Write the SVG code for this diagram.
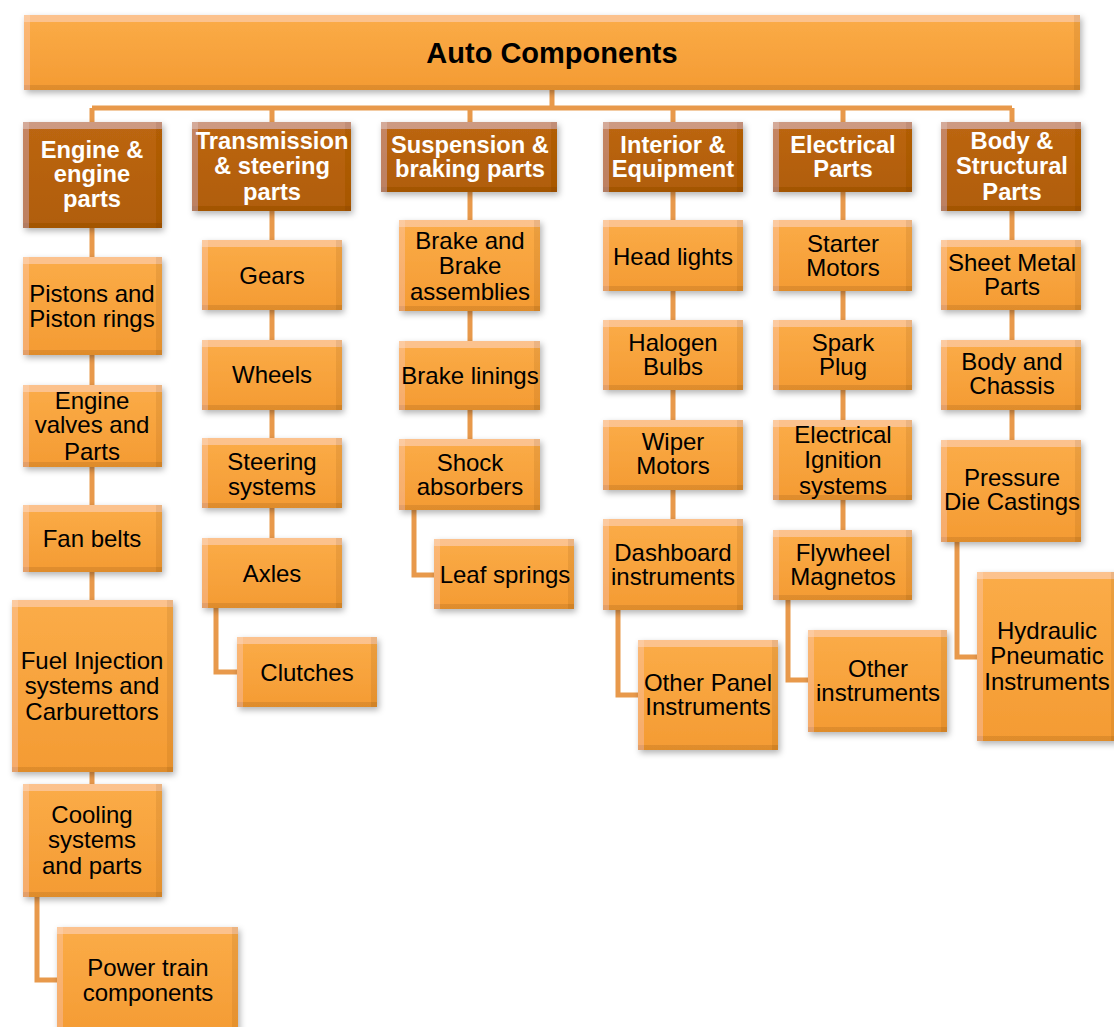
<svg xmlns="http://www.w3.org/2000/svg" width="1114" height="1027" viewBox="0 0 1114 1027">
<defs>
<linearGradient id="g" x1="0" y1="0" x2="0" y2="1"><stop offset="0" stop-color="#FBAC48"/><stop offset="1" stop-color="#F49B33"/></linearGradient>
<linearGradient id="gk" x1="0" y1="0" x2="0" y2="1"><stop offset="0" stop-color="#BC6612"/><stop offset="1" stop-color="#B05D0C"/></linearGradient>
<filter id="bev" x="-10%" y="-10%" width="125%" height="130%">
<feGaussianBlur in="SourceAlpha" stdDeviation="3" result="b"/>
<feOffset in="b" dx="2" dy="3" result="bo"/>
<feFlood flood-color="#000" flood-opacity="0.3"/>
<feComposite in2="bo" operator="in" result="sh"/>
<feOffset in="SourceAlpha" dy="7" result="d1"/>
<feComposite in="SourceAlpha" in2="d1" operator="out" result="tb"/>
<feFlood flood-color="#fff" flood-opacity="0.22"/>
<feComposite in2="tb" operator="in" result="tbc"/>
<feOffset in="SourceAlpha" dy="-5" result="d2"/>
<feComposite in="SourceAlpha" in2="d2" operator="out" result="bb"/>
<feFlood flood-color="#6a3300" flood-opacity="0.22"/>
<feComposite in2="bb" operator="in" result="bbc"/>
<feOffset in="SourceAlpha" dx="6" result="d3"/>
<feComposite in="SourceAlpha" in2="d3" operator="out" result="lb"/>
<feFlood flood-color="#fff" flood-opacity="0.12"/>
<feComposite in2="lb" operator="in" result="lbc"/>
<feOffset in="SourceAlpha" dx="-6" result="d4"/>
<feComposite in="SourceAlpha" in2="d4" operator="out" result="rb"/>
<feFlood flood-color="#6a3300" flood-opacity="0.16"/>
<feComposite in2="rb" operator="in" result="rbc"/>
<feMerge><feMergeNode in="sh"/><feMergeNode in="SourceGraphic"/><feMergeNode in="tbc"/><feMergeNode in="bbc"/><feMergeNode in="lbc"/><feMergeNode in="rbc"/></feMerge>
</filter>
</defs>
<style>
.c{fill:url(#g);filter:url(#bev)}
.k{fill:url(#gk);filter:url(#bev)}
.t{font-family:"Liberation Sans",Arial,sans-serif;font-size:24px;fill:#000;text-anchor:middle}
.tk{font-family:"Liberation Sans",Arial,sans-serif;font-size:23.7px;font-weight:bold;fill:#fff;text-anchor:middle}
.tt{font-family:"Liberation Sans",Arial,sans-serif;font-size:29px;font-weight:bold;fill:#000;text-anchor:middle}
.ln{fill:none;stroke:#E8994B;stroke-width:5}
</style>
<rect width="1114" height="1027" fill="#fff"/>
<g id="connectors" class="ln">
<path d="M552 90V108M92 108H1012M92 108V122M272 108V122M470 108V122M673 108V122M843 108V122M1012 108V122"/>
<path d="M92 228V784M37 897V980H57"/>
<path d="M272 211V538M216 608V672H237"/>
<path d="M470 192V439M414 510V575H434"/>
<path d="M673 192V519M618 610V695H638"/>
<path d="M843 192V530M788 600V680H808"/>
<path d="M1012 211V440M957 542V657H977"/>
</g>
<g id="root"><rect class="c" x="24" y="15" width="1056" height="75"/><text class="tt" x="552" y="63">Auto Components</text></g>

<g id="cat-engine"><rect class="k" x="23" y="122" width="139" height="106"/><text class="tk"><tspan x="92" y="158">Engine &amp;</tspan><tspan x="92" y="182">engine</tspan><tspan x="92" y="207">parts</tspan></text></g>
<g id="cat-trans"><rect class="k" x="192" y="122" width="159" height="89"/><text class="tk"><tspan x="272" y="149">Transmission</tspan><tspan x="272" y="174">&amp; steering</tspan><tspan x="272" y="200">parts</tspan></text></g>
<g id="cat-susp"><rect class="k" x="381" y="122" width="176" height="70"/><text class="tk"><tspan x="470" y="153">Suspension &amp;</tspan><tspan x="470" y="177">braking parts</tspan></text></g>
<g id="cat-interior"><rect class="k" x="603" y="122" width="140" height="70"/><text class="tk"><tspan x="673" y="153">Interior &amp;</tspan><tspan x="673" y="177">Equipment</tspan></text></g>
<g id="cat-elec"><rect class="k" x="773" y="122" width="139" height="70"/><text class="tk"><tspan x="843" y="153">Electrical</tspan><tspan x="843" y="177">Parts</tspan></text></g>
<g id="cat-body"><rect class="k" x="941" y="122" width="140" height="89"/><text class="tk"><tspan x="1012" y="149">Body &amp;</tspan><tspan x="1012" y="174">Structural</tspan><tspan x="1012" y="200">Parts</tspan></text></g>

<g id="pistons"><rect class="c" x="23" y="257" width="139" height="98"/><text class="t"><tspan x="92" y="302">Pistons and</tspan><tspan x="92" y="327">Piston rings</tspan></text></g>
<g id="valves"><rect class="c" x="23" y="385" width="139" height="82"/><text class="t"><tspan x="92" y="409">Engine</tspan><tspan x="92" y="433">valves and</tspan><tspan x="92" y="460">Parts</tspan></text></g>
<g id="fanbelts"><rect class="c" x="23" y="505" width="139" height="67"/><text class="t" x="92" y="547">Fan belts</text></g>
<g id="fuel"><rect class="c" x="12" y="600" width="161" height="172"/><text class="t"><tspan x="92" y="669">Fuel Injection</tspan><tspan x="92" y="694">systems and</tspan><tspan x="92" y="720">Carburettors</tspan></text></g>
<g id="cooling"><rect class="c" x="23" y="784" width="139" height="113"/><text class="t"><tspan x="92" y="823">Cooling</tspan><tspan x="92" y="848">systems</tspan><tspan x="92" y="874">and parts</tspan></text></g>
<g id="powertrain"><rect class="c" x="57" y="927" width="181" height="110"/><text class="t"><tspan x="148" y="976">Power train</tspan><tspan x="148" y="1001">components</tspan></text></g>

<g id="gears"><rect class="c" x="202" y="240" width="140" height="70"/><text class="t" x="272" y="284">Gears</text></g>
<g id="wheels"><rect class="c" x="202" y="340" width="140" height="70"/><text class="t" x="272" y="383">Wheels</text></g>
<g id="steering"><rect class="c" x="202" y="438" width="140" height="70"/><text class="t"><tspan x="272" y="470">Steering</tspan><tspan x="272" y="495">systems</tspan></text></g>
<g id="axles"><rect class="c" x="202" y="538" width="140" height="70"/><text class="t" x="272" y="582">Axles</text></g>
<g id="clutches"><rect class="c" x="237" y="637" width="140" height="70"/><text class="t" x="307" y="681">Clutches</text></g>

<g id="brakes"><rect class="c" x="399" y="220" width="141" height="91"/><text class="t"><tspan x="470" y="249">Brake and</tspan><tspan x="470" y="274">Brake</tspan><tspan x="470" y="300">assemblies</tspan></text></g>
<g id="linings"><rect class="c" x="399" y="341" width="141" height="69"/><text class="t" x="470" y="384">Brake linings</text></g>
<g id="shock"><rect class="c" x="399" y="439" width="141" height="71"/><text class="t"><tspan x="470" y="471">Shock</tspan><tspan x="470" y="495">absorbers</tspan></text></g>
<g id="leaf"><rect class="c" x="434" y="539" width="140" height="70"/><text class="t" x="505" y="583">Leaf springs</text></g>

<g id="headlights"><rect class="c" x="603" y="220" width="140" height="71"/><text class="t" x="673" y="265">Head lights</text></g>
<g id="halogen"><rect class="c" x="603" y="320" width="140" height="70"/><text class="t"><tspan x="673" y="351">Halogen</tspan><tspan x="673" y="375">Bulbs</tspan></text></g>
<g id="wiper"><rect class="c" x="603" y="420" width="140" height="70"/><text class="t"><tspan x="673" y="450">Wiper</tspan><tspan x="673" y="474">Motors</tspan></text></g>
<g id="dashboard"><rect class="c" x="603" y="519" width="140" height="91"/><text class="t"><tspan x="673" y="561">Dashboard</tspan><tspan x="673" y="585">instruments</tspan></text></g>
<g id="otherpanel"><rect class="c" x="638" y="640" width="140" height="110"/><text class="t"><tspan x="708" y="691">Other Panel</tspan><tspan x="708" y="715">Instruments</tspan></text></g>

<g id="starter"><rect class="c" x="773" y="220" width="139" height="71"/><text class="t"><tspan x="843" y="252">Starter</tspan><tspan x="843" y="276">Motors</tspan></text></g>
<g id="spark"><rect class="c" x="773" y="320" width="139" height="70"/><text class="t"><tspan x="843" y="351">Spark</tspan><tspan x="843" y="375">Plug</tspan></text></g>
<g id="ignition"><rect class="c" x="773" y="420" width="139" height="80"/><text class="t"><tspan x="843" y="443">Electrical</tspan><tspan x="843" y="468">Ignition</tspan><tspan x="843" y="494">systems</tspan></text></g>
<g id="flywheel"><rect class="c" x="773" y="530" width="139" height="70"/><text class="t"><tspan x="843" y="561">Flywheel</tspan><tspan x="843" y="585">Magnetos</tspan></text></g>
<g id="otherinst"><rect class="c" x="808" y="630" width="139" height="102"/><text class="t"><tspan x="878" y="677">Other</tspan><tspan x="878" y="701">instruments</tspan></text></g>

<g id="sheetmetal"><rect class="c" x="941" y="240" width="140" height="70"/><text class="t"><tspan x="1012" y="271">Sheet Metal</tspan><tspan x="1012" y="295">Parts</tspan></text></g>
<g id="chassis"><rect class="c" x="941" y="340" width="140" height="70"/><text class="t"><tspan x="1012" y="370">Body and</tspan><tspan x="1012" y="394">Chassis</tspan></text></g>
<g id="diecast"><rect class="c" x="941" y="440" width="140" height="102"/><text class="t"><tspan x="1012" y="486">Pressure</tspan><tspan x="1012" y="510">Die Castings</tspan></text></g>
<g id="hydraulic"><rect class="c" x="977" y="572" width="140" height="169"/><text class="t"><tspan x="1047" y="639">Hydraulic</tspan><tspan x="1047" y="664">Pneumatic</tspan><tspan x="1047" y="690">Instruments</tspan></text></g>
</svg>
